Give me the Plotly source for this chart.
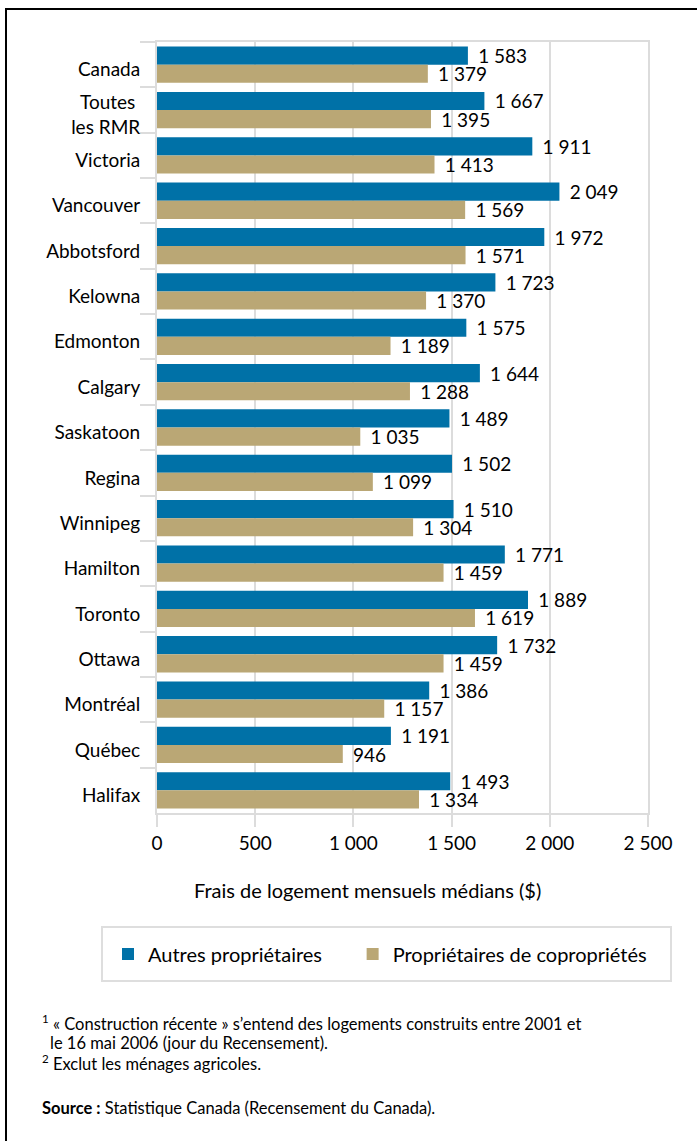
import plotly.graph_objects as go

categories = ["Canada", "Toutes\u00a0<br>les RMR", "Victoria", "Vancouver", "Abbotsford", "Kelowna",
              "Edmonton", "Calgary", "Saskatoon", "Regina", "Winnipeg", "Hamilton",
              "Toronto", "Ottawa", "Montréal", "Québec", "Halifax"]
autres = [1583, 1667, 1911, 2049, 1972, 1723, 1575, 1644, 1489, 1502, 1510, 1771, 1889, 1732, 1386, 1191, 1493]
copro = [1379, 1395, 1413, 1569, 1571, 1370, 1189, 1288, 1035, 1099, 1304, 1459, 1619, 1459, 1157, 946, 1334]
series_names = ["Autres propriétaires", "Propriétaires de copropriétés"]
colors = ["#0071A7", "#BAA775"]
x_ticks = [0, 500, 1000, 1500, 2000, 2500]
x_title = "Frais de logement mensuels médians ($)"

W, H = 697, 1141
L, R, T, B = 157, 49, 42, 328
PW, PH = W - L - R, H - T - B
FONT = "Lato"

def px(xp):
    return (xp - L) / PW

def py(yp):
    return (H - B - yp) / PH

fig = go.Figure()
for i, (name, vals, col) in enumerate(zip(series_names, [autres, copro], colors)):
    label = name + ("\u00a0" * 5 if i == 0 else "")
    fig.add_trace(go.Bar(
        y=categories, x=vals, orientation="h", name=label,
        marker=dict(color=col, line=dict(width=0)),
        texttemplate=" \u2009%{x:,}", textposition="outside", constraintext="none",
        cliponaxis=False, textfont=dict(size=19, color="black", family=FONT),
    ))

grid = "#dcdcdc"
fig.update_layout(
    width=W, height=H, margin=dict(l=L, r=R, t=T, b=B),
    paper_bgcolor="white", plot_bgcolor="white",
    separators=", ",
    barmode="group", bargap=0.2, bargroupgap=0,
    font=dict(family=FONT, size=19, color="black"),
    xaxis=dict(range=[0, 2500], tickvals=x_ticks, separatethousands=True,
               showgrid=True, gridcolor=grid, gridwidth=2,
               showline=True, mirror=True, linecolor=grid, linewidth=2,
               ticks="outside", ticklen=12, tickcolor=grid, tickwidth=2,
               zeroline=False, tickfont=dict(size=19)),
    yaxis=dict(autorange="reversed", showgrid=False,
               showline=True, mirror=True, linecolor=grid, linewidth=2,
               ticks="outside", tickson="boundaries", ticklen=15, tickcolor=grid, tickwidth=2,
               tickfont=dict(size=19), ticklabelstandoff=11, ticklabelshift=-5),
    legend=dict(orientation="h", x=px(108), y=py(954), xanchor="left", yanchor="middle",
                borderwidth=0, bgcolor="rgba(0,0,0,0)",
                font=dict(size=20), itemclick=False),
    showlegend=True,
)

# axis title
fig.add_annotation(xref="paper", yref="paper", x=px(367), y=py(890), text=x_title,
                   showarrow=False, xanchor="center", yanchor="middle",
                   font=dict(size=20, family=FONT, color="black"))

# legend frame
fig.add_shape(type="rect", xref="paper", yref="paper",
              x0=px(102), x1=px(671), y0=py(927), y1=py(981),
              line=dict(color="#dedede", width=2), fillcolor="white", layer="below")

# outer frame (left and top edges visible)
fig.add_shape(type="rect", xref="paper", yref="paper",
              x0=px(6), x1=px(720), y0=py(9), y1=py(1160),
              line=dict(color="black", width=2), fillcolor="rgba(0,0,0,0)", layer="below")

notes = [
    (40, 1023, "<sup>1</sup> « Construction récente » s’entend des logements construits entre 2001 et"),
    (48, 1043, "le 16 mai 2006 (jour du Recensement)."),
    (40, 1063, "<sup>2</sup> Exclut les ménages agricoles."),
    (40, 1108, "<b>Source :</b> Statistique Canada (Recensement du Canada)."),
]
for xx, yy, txt in notes:
    fig.add_annotation(xref="paper", yref="paper", x=px(xx), y=py(yy), text=txt,
                       showarrow=False, xanchor="left", yanchor="middle",
                       font=dict(size=16.5, family=FONT, color="black"))

fig.write_html("out.html")
